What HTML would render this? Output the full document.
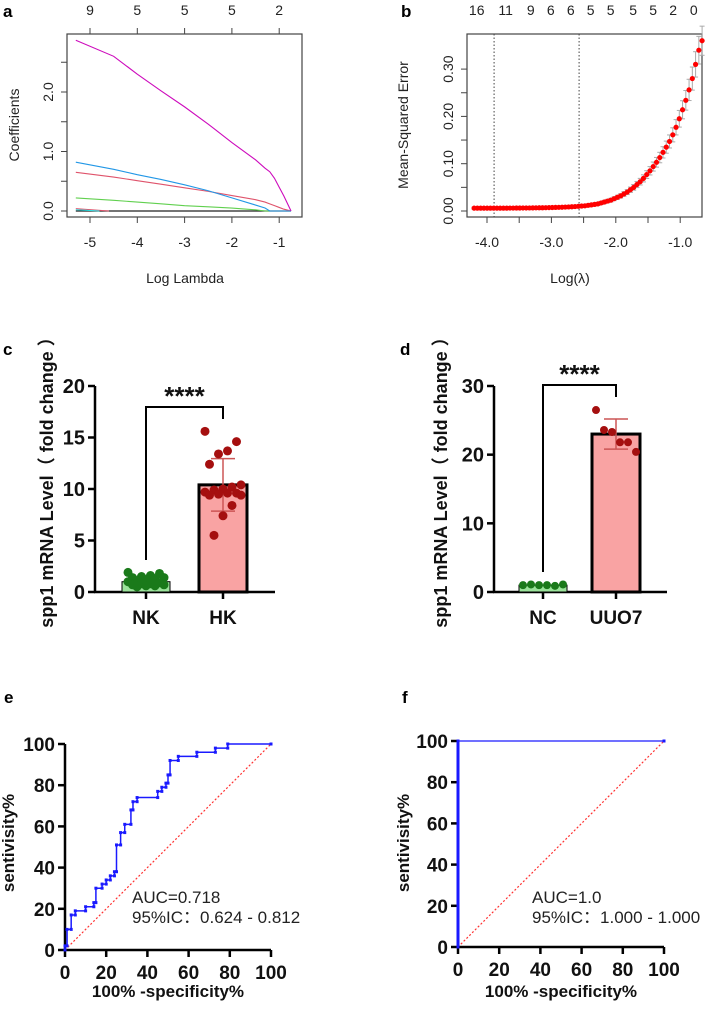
<!DOCTYPE html>
<html><head><meta charset="utf-8"><style>
html,body{margin:0;padding:0;background:#fff}
svg{display:block;font-family:"Liberation Sans","Noto Sans CJK SC",sans-serif}
.r{font-size:14px;fill:#222}
.b{font-weight:bold;fill:#111}
</style></head><body>
<svg id="fig" width="705" height="1010" viewBox="0 0 705 1010"></svg>
<script>
// ---------- Panel a data ----------
const aLambda = [-5.3,-4.5,-4.0,-3.5,-3.0,-2.5,-2.0,-1.5,-1.3,-1.2,-1.1,-1.0,-0.9,-0.75];
const aMagenta = [2.87,2.6,2.3,2.02,1.75,1.46,1.15,0.86,0.72,0.66,0.55,0.4,0.25,0];
const aBlue = [0.82,0.7,0.61,0.53,0.44,0.34,0.22,0.1,0.05,0,0,0,0,0];
const aRed = [0.65,0.57,0.51,0.45,0.39,0.33,0.26,0.19,0.15,0.12,0.09,0.06,0.03,0];
const aGreen = [0.22,0.18,0.15,0.12,0.09,0.07,0.05,0.02,0.0,0,0,0,0,0];
const aXTicks = [-5,-4,-3,-2,-1];
const aTopLabels = ["9","5","5","5","2"];
const aYTicks = [0,0.5,1.0,1.5,2.0,2.5];
const aYLabels = ["0.0","","1.0","","2.0",""];
// ---------- Panel b data ----------
const bStart = -4.2, bEnd = -0.66;
const bMSE = [0.006,0.006,0.006,0.006,0.006,0.006,0.006,0.006,0.006,0.006,
0.006,0.0062,0.0062,0.0063,0.0063,0.0064,0.0064,0.0065,0.0066,0.0067,
0.0068,0.0069,0.007,0.0072,0.0074,0.0076,0.0078,0.008,0.0083,0.0086,
0.009,0.0094,0.0099,0.0105,0.011,0.012,0.013,0.014,0.015,0.017,
0.019,0.021,0.023,0.026,0.029,0.032,0.036,0.040,0.045,0.050,
0.056,0.062,0.069,0.077,0.085,0.094,0.103,0.113,0.124,0.135,
0.147,0.161,0.177,0.195,0.214,0.234,0.256,0.28,0.31,0.34,0.36];
const bXTicks = [-4.0,-3.5,-3.0,-2.5,-2.0,-1.5,-1.0];
const bXLabels = ["-4.0","","-3.0","","-2.0","","-1.0"];
const bYTicks = [0,0.05,0.10,0.15,0.20,0.25,0.30];
const bYLabels = ["0.00","","0.10","","0.20","","0.30"];
const bTopLambda = [-4.16,-3.71,-3.32,-3.01,-2.70,-2.39,-2.08,-1.73,-1.42,-1.11,-0.79];
const bTopLabels = ["16","11","9","6","6","5","5","5","5","2","0"];
const bVlines = [-3.89,-2.57];
// ---------- Panel c data ----------
const cGroups = ["NK","HK"];
const cNK = [1.9,1.8,1.6,1.5,1.4,1.4,1.3,1.2,1.1,1.0,0.9,0.8,0.8,0.7,0.7,0.6,0.6,0.5];
const cHK = [15.6,14.6,13.7,13.4,12.4,10.4,10.2,10.0,9.9,9.7,9.6,9.6,9.5,9.4,9.4,8.4,7.4,5.5];
const cMeans = [1.0,10.4];
const cSD = [0.4,2.55];
const cTicks = [0,5,10,15,20];
// ---------- Panel d data ----------
const dGroups = ["NC","UUO7"];
const dNC = [1.0,1.1,1.0,1.0,0.9,1.1];
const dUUO = [26.5,23.6,23.3,21.8,21.8,20.4];
const dMeans = [1.0,23.0];
const dSD = [0.1,2.2];
const dTicks = [0,10,20,30];
// ---------- Panel e data ----------
const eFPR = [0,0,1,1,3,3,5,5,10,10,14,14,15,15,18,18,20,20,22,22,24,24,25,25,27,27,29,29,32,32,33,33,35,35,45,45,47,47,49,49,50,50,51,51,55,55,64,64,73,73,79,79,100];
const eTPR = [0,2,2,10,10,17,17,19,19,21,21,23,23,30,30,32,32,34,34,36,36,38,38,51,51,57,57,61,61,68,68,72,72,74,74,77,77,79,79,81,81,85,85,92,92,94,94,96,96,98,98,100,100];
// ---------- Panel f data ----------
const fFPR = [0,0,100];
const fTPR = [0,100,100];
const rocTicks = [0,20,40,60,80,100];

const NS="http://www.w3.org/2000/svg";
const svg=document.getElementById('fig');
function mk(tag,attrs,parent,name,txt){const e=document.createElementNS(NS,tag);for(const k in attrs)e.setAttribute(k,attrs[k]);if(txt!==undefined)e.textContent=txt;


(parent||svg).appendChild(e);return e;}
function grp(name){const g=document.createElementNS(NS,'g');


svg.appendChild(g);return g;}

// ===== Panel a =====
(function(){
const g=grp('panel-a');
const xa=v=>90+(v+5)*47.3, ya=v=>211-v*59.5;
mk('text',{x:3,y:17,'font-size':17,'font-weight':'bold',fill:'#000'},g,'panel-label-a','a');
mk('rect',{x:67,y:34,width:235,height:183,fill:'none',stroke:'#444','stroke-width':1.2},g,'plot-box-a');
aXTicks.forEach((t,i)=>{
 mk('line',{x1:xa(t),x2:xa(t),y1:217,y2:223,stroke:'#444'},g,'x-tick');
 mk('text',{x:xa(t),y:247,'text-anchor':'middle',class:'r'},g,'x-tick-label',String(t));
 mk('line',{x1:xa(t),x2:xa(t),y1:34,y2:28,stroke:'#444'},g,'top-tick');
 mk('text',{x:xa(t),y:15,'text-anchor':'middle',class:'r'},g,'top-tick-label',aTopLabels[i]);
});
aYTicks.forEach((t,i)=>{
 mk('line',{x1:67,x2:61,y1:ya(t),y2:ya(t),stroke:'#444'},g,'y-tick');
 if(aYLabels[i]) mk('text',{x:0,y:0,'text-anchor':'middle',class:'r',transform:`translate(53,${ya(t)}) rotate(-90)`},g,'y-tick-label',aYLabels[i]);
});
mk('text',{x:0,y:0,'text-anchor':'middle',class:'r',transform:'translate(19,125) rotate(-90)'},g,'y-axis-title','Coefficients');
mk('text',{x:185,y:283,'text-anchor':'middle',class:'r'},g,'x-axis-title','Log Lambda');
const line=(arr,c,n)=>mk('polyline',{points:aLambda.map((l,i)=>xa(l)+','+ya(arr[i])).join(' '),fill:'none',stroke:c,'stroke-width':1.1},g,n);
mk('line',{x1:xa(-5.3),x2:xa(-0.75),y1:ya(0),y2:ya(0),stroke:'#222','stroke-width':1.3},g,'coef-line-zero');
mk('polyline',{points:`${xa(-5.3)},${ya(0.04)} ${xa(-4.6)},${ya(0)}`,fill:'none',stroke:'#DF536B'},g,'coef-line-small');
mk('polyline',{points:`${xa(-5.3)},${ya(0.02)} ${xa(-4.8)},${ya(0)}`,fill:'none',stroke:'#28E2E5'},g,'coef-line-small2');
line(aGreen,'#61D04F','coef-line-green');
line(aRed,'#DF536B','coef-line-red');
line(aBlue,'#2297E6','coef-line-blue');
line(aMagenta,'#CD0BBC','coef-line-magenta');
})();

// ===== Panel b =====
(function(){
const g=grp('panel-b');
const xb=v=>487+(v+4)*64.4, yb=v=>211-v*473;
mk('text',{x:401,y:17,'font-size':17,'font-weight':'bold',fill:'#000'},g,'panel-label-b','b');
mk('rect',{x:467,y:34,width:235,height:183,fill:'none',stroke:'#444','stroke-width':1.2},g,'plot-box-b');
bXTicks.forEach((t,i)=>{
 mk('line',{x1:xb(t),x2:xb(t),y1:217,y2:223,stroke:'#444'},g,'x-tick');
 if(bXLabels[i]) mk('text',{x:xb(t),y:247,'text-anchor':'middle',class:'r'},g,'x-tick-label',bXLabels[i]);
});
bTopLambda.forEach((t,i)=>mk('text',{x:xb(t),y:15,'text-anchor':'middle',class:'r'},g,'top-tick-label',bTopLabels[i]));
bYTicks.forEach((t,i)=>{
 mk('line',{x1:467,x2:461,y1:yb(t),y2:yb(t),stroke:'#444'},g,'y-tick');
 if(bYLabels[i]) mk('text',{x:0,y:0,'text-anchor':'middle',class:'r',transform:`translate(453,${yb(t)}) rotate(-90)`},g,'y-tick-label',bYLabels[i]);
});
mk('text',{x:0,y:0,'text-anchor':'middle',class:'r',transform:'translate(408,125) rotate(-90)'},g,'y-axis-title','Mean-Squared Error');
mk('text',{x:570,y:283,'text-anchor':'middle',class:'r'},g,'x-axis-title','Log(λ)');
bVlines.forEach(v=>mk('line',{x1:xb(v),x2:xb(v),y1:34,y2:217,stroke:'#444','stroke-dasharray':'1.5,2'},g,'lambda-vline'));
const n=bMSE.length, step=(bEnd-bStart)/(n-1);
bMSE.forEach((m,i)=>{
 const l=bStart+i*step, e=0.002+m*0.08;
 mk('line',{x1:xb(l),x2:xb(l),y1:yb(m+e),y2:yb(m-e),stroke:'#aaa','stroke-width':1},g,'mse-errorbar');
 mk('line',{x1:xb(l)-2.5,x2:xb(l)+2.5,y1:yb(m+e),y2:yb(m+e),stroke:'#aaa'},g,'mse-errorcap');
 mk('line',{x1:xb(l)-2.5,x2:xb(l)+2.5,y1:yb(m-e),y2:yb(m-e),stroke:'#aaa'},g,'mse-errorcap');
});
bMSE.forEach((m,i)=>mk('circle',{cx:xb(bStart+i*step),cy:yb(m),r:2.6,fill:'#f00'},g,'mse-point'));
})();

// ===== bar panels =====
function barPanel(opt){
const g=grp(opt.name);
const y=v=>592-v*opt.k;
mk('text',{x:opt.lx,y:355,'font-size':17,'font-weight':'bold',fill:'#000'},g,'panel-label',opt.label);
mk('line',{x1:opt.ax,x2:opt.ax,y1:y(opt.ticks[opt.ticks.length-1]),y2:593,stroke:'#000','stroke-width':2.5},g,'y-axis-line');
mk('line',{x1:opt.ax-1,x2:opt.axEnd,y1:592,y2:592,stroke:'#000','stroke-width':2.5},g,'x-axis-line');
opt.ticks.forEach(t=>{
 mk('line',{x1:opt.ax-7,x2:opt.ax,y1:y(t),y2:y(t),stroke:'#000','stroke-width':2.5},g,'y-tick');
 mk('text',{x:opt.ax-10,y:y(t)+7,'text-anchor':'end','font-size':20,class:'b'},g,'y-tick-label',String(t));
});
mk('text',{x:0,y:0,'text-anchor':'middle','font-size':18,class:'b',transform:`translate(${opt.yt},478) rotate(-90)`},g,'y-axis-title','spp1 mRNA Level（ fold change ）');
const bw=48;
opt.groups.forEach((name,i)=>{
 const cx=opt.cx[i];
 mk('line',{x1:cx,x2:cx,y1:592,y2:599,stroke:'#000','stroke-width':2.5},g,'x-tick');
 mk('text',{x:cx,y:624,'text-anchor':'middle','font-size':19,class:'b'},g,'x-tick-label',name);
 const fill=i==0?'#9be39b':'#f9a3a3', pc=i==0?'#1a7a1a':'#a50f0f';
 mk('rect',{x:cx-bw/2,y:y(opt.means[i]),width:bw,height:592-y(opt.means[i]),fill:fill,stroke:'#000','stroke-width':i==0?1:3},g,'bar-'+name);
 if(i==1){
  mk('line',{x1:cx,x2:cx,y1:y(opt.means[i]+opt.sd[i]),y2:y(opt.means[i]-opt.sd[i]),stroke:'#c55','stroke-width':1.5},g,'error-bar');
  [1,-1].forEach(s=>mk('line',{x1:cx-12,x2:cx+12,y1:y(opt.means[i]+s*opt.sd[i]),y2:y(opt.means[i]+s*opt.sd[i]),stroke:'#c55','stroke-width':1.5},g,'error-cap'));
 }
 const pts=opt.pts[i];
 pts.forEach((v,j)=>{
  const off=opt.jitter ? ((j*7)%9-4)*4.5 : (j-(pts.length-1)/2)*8;
  mk('circle',{cx:cx+off,cy:y(v),r:opt.r,fill:pc},g,'data-point-'+name);
 });
});
const bt=opt.bTop;
mk('polyline',{points:`${opt.cx[0]},${opt.bl} ${opt.cx[0]},${bt} ${opt.cx[1]},${bt} ${opt.cx[1]},${bt+12}`,fill:'none',stroke:'#000','stroke-width':2},g,'significance-bracket');
mk('text',{x:(opt.cx[0]+opt.cx[1])/2,y:bt-2,'text-anchor':'middle','font-size':26,class:'b'},g,'significance-stars','****');
}
barPanel({name:'panel-c',label:'c',lx:3,ax:95,axEnd:275,k:10.3,ticks:cTicks,groups:cGroups,cx:[146,223],means:cMeans,sd:cSD,pts:[cNK,cHK],r:4.5,jitter:true,yt:53,bTop:407,bl:560});
barPanel({name:'panel-d',label:'d',lx:400,ax:494,axEnd:667,k:6.867,ticks:dTicks,groups:dGroups,cx:[543,616],means:dMeans,sd:dSD,pts:[dNC,dUUO],r:4,jitter:false,yt:447,bTop:385,bl:572});

// ===== ROC panels =====
function rocPanel(opt){
const g=grp(opt.name);
const x=v=>opt.x0+v*2.06, y=v=>opt.y0-v*2.06;
mk('text',{x:opt.lx,y:703,'font-size':17,'font-weight':'bold',fill:'#000'},g,'panel-label',opt.label);
mk('line',{x1:x(0),x2:x(0),y1:y(100),y2:y(0)+1,stroke:'#000','stroke-width':2.5},g,'y-axis-line');
mk('line',{x1:x(0)-1,x2:x(100),y1:y(0),y2:y(0),stroke:'#000','stroke-width':2.5},g,'x-axis-line');
rocTicks.forEach(t=>{
 mk('line',{x1:x(0)-7,x2:x(0),y1:y(t),y2:y(t),stroke:'#000','stroke-width':2.5},g,'y-tick');
 mk('text',{x:x(0)-10,y:y(t)+7,'text-anchor':'end','font-size':19,class:'b'},g,'y-tick-label',String(t));
 mk('line',{x1:x(t),x2:x(t),y1:y(0),y2:y(0)+7,stroke:'#000','stroke-width':2.5},g,'x-tick');
 mk('text',{x:x(t),y:y(0)+29,'text-anchor':'middle','font-size':19,class:'b'},g,'x-tick-label',String(t));
});
mk('text',{x:0,y:0,'text-anchor':'middle','font-size':17,class:'b',transform:`translate(${opt.yt},843) rotate(-90)`},g,'y-axis-title','sentivisity%');
mk('text',{x:x(50),y:opt.xtY,'text-anchor':'middle','font-size':17,class:'b'},g,'x-axis-title','100% -specificity%');
mk('line',{x1:x(0),y1:y(0),x2:x(100),y2:y(100),stroke:'#f33','stroke-width':1.2,'stroke-dasharray':'2,2'},g,'reference-diagonal');
mk('polyline',{points:opt.fpr.map((f,i)=>x(f)+','+y(opt.tpr[i])).join(' '),fill:'none',stroke:'#1a1aff','stroke-width':opt.w},g,'roc-curve');
opt.fpr.forEach((f,i)=>mk('rect',{x:x(f)-1.5,y:y(opt.tpr[i])-1.5,width:3,height:3,fill:'#1a1aff'},g,'roc-point'));
mk('text',{x:opt.tx,y:903,'font-size':17,fill:'#222'},g,'auc-label',opt.auc);
mk('text',{x:opt.tx,y:923,'font-size':17,fill:'#222'},g,'ci-label',opt.ci);
}
rocPanel({name:'panel-e',label:'e',lx:4,x0:65,y0:950,fpr:eFPR,tpr:eTPR,w:1.5,yt:14,xtY:997,tx:132,auc:'AUC=0.718',ci:'95%IC：0.624 - 0.812'});
rocPanel({name:'panel-f',label:'f',lx:402,x0:458,y0:947,fpr:fFPR,tpr:fTPR,w:1.2,yt:409,xtY:997,tx:532,auc:'AUC=1.0',ci:'95%IC：1.000 - 1.000'});
(function(){
 const g=svg.lastChild;
 mk('line',{x1:458,x2:458,y1:741,y2:947,stroke:'#1a1aff','stroke-width':3},g,'roc-vertical-segment');
})();
</script>
</body></html>
